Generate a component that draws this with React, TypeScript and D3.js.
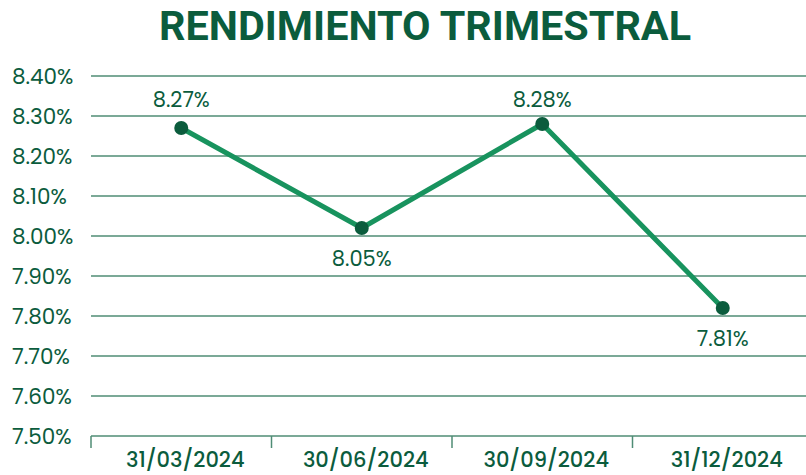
import React from "react";
import * as d3 from "d3";

const categories = ["31/03/2024", "30/06/2024", "30/09/2024", "31/12/2024"];
const values = [8.27, 8.02, 8.28, 7.82];
const valueLabels = ["8.27%", "8.05%", "8.28%", "7.81%"];
const labelAbove = [true, false, true, false];
const yTicks = [7.5, 7.6, 7.7, 7.8, 7.9, 8.0, 8.1, 8.2, 8.3, 8.4];
const title = "RENDIMIENTO TRIMESTRAL";

const W = 806;
const H = 475;
const DARK = "#0b5c3d";
const LINE = "#18935e";
const GRID = "#4f8c75";
const FONT = "Poppins, 'Open Sans', Roboto, sans-serif";

export default function App() {
  const x = d3.scaleBand<string>().domain(categories).range([91, 813]);
  const y = d3.scaleLinear().domain([7.5, 8.4]).range([436, 76]);
  const pts = categories.map((c, i) => [x(c)! + x.bandwidth() / 2, y(values[i])] as [number, number]);
  const line = d3.line<[number, number]>()(pts) || "";

  return (
    <svg width={W} height={H} style={{ position: "absolute", left: 0, top: 0, background: "#fff" }}>
      <text
        x={425}
        y={40}
        textAnchor="middle"
        fill={DARK}
        fontFamily="Roboto, sans-serif"
        fontWeight={700}
        fontSize={41}
        textLength={532}
        lengthAdjust="spacingAndGlyphs"
      >
        {title}
      </text>
      {yTicks.map((t) => (
        <g key={t}>
          {t > 7.5 && (
            <line x1={91} x2={W} y1={y(t)} y2={y(t)} stroke={GRID} strokeWidth={1.5} />
          )}
          <text x={12} y={y(t)} dy="0.35em" fill={DARK} fontFamily={FONT} fontSize={21.5}>
            {t.toFixed(2) + "%"}
          </text>
        </g>
      ))}
      <line x1={91} x2={W} y1={y(7.5)} y2={y(7.5)} stroke={GRID} strokeWidth={1.5} />
      {categories.map((c) => (
        <line key={"t" + c} x1={x(c)!} x2={x(c)!} y1={y(7.5)} y2={y(7.5) + 12} stroke={GRID} strokeWidth={1.5} />
      ))}
      {categories.map((c, i) => (
        <text
          key={"l" + c}
          x={pts[i][0] + 4}
          y={460}
          dy="0.35em"
          textAnchor="middle"
          fill={DARK}
          fontFamily={FONT}
          fontWeight={500}
          fontSize={21}
        >
          {c}
        </text>
      ))}
      <path d={line} fill="none" stroke={LINE} strokeWidth={5} strokeLinejoin="round" />
      {pts.map((p, i) => (
        <circle key={"c" + i} cx={p[0]} cy={p[1]} r={7} fill={DARK} />
      ))}
      {pts.map((p, i) => (
        <text
          key={"v" + i}
          x={p[0]}
          y={labelAbove[i] ? y(8.34) : p[1] + 31}
          dy="0.35em"
          textAnchor="middle"
          fill={DARK}
          fontFamily={FONT}
          fontSize={21}
        >
          {valueLabels[i]}
        </text>
      ))}
    </svg>
  );
}
